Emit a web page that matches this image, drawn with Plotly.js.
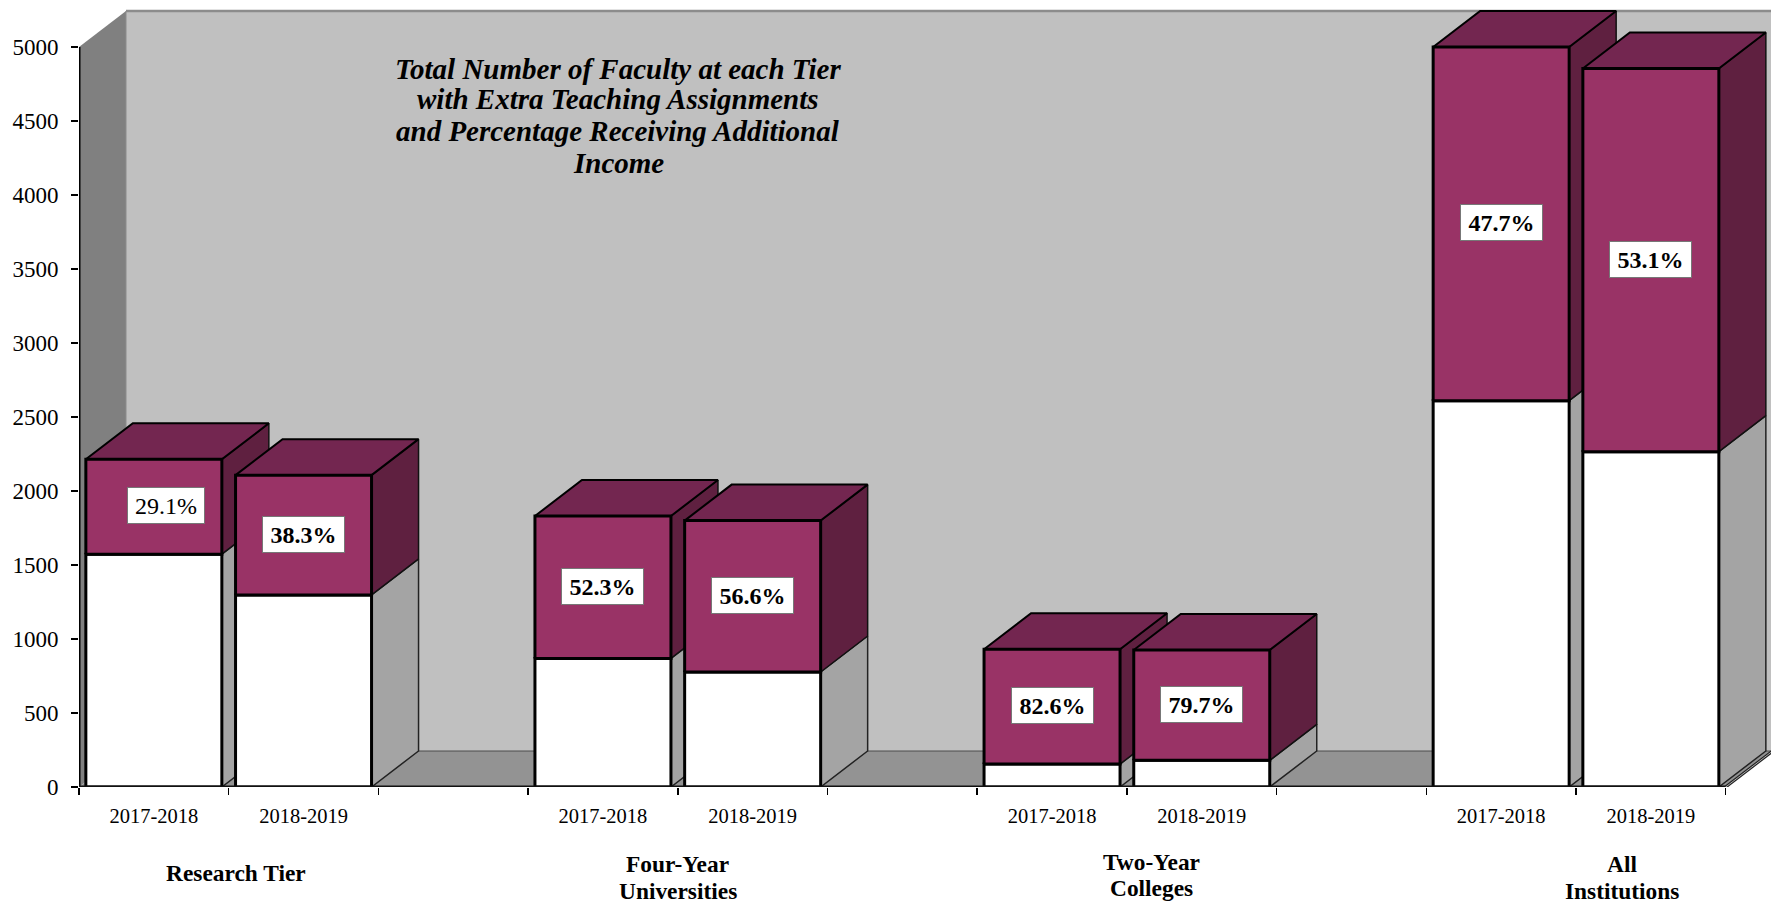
<!DOCTYPE html>
<html><head><meta charset="utf-8">
<script src="https://cdn.plot.ly/plotly-3.0.1.min.js"></script>
<style>html,body{margin:0;padding:0;background:#fff}#c{width:1771px;height:905px}</style>
</head><body><div id="c"></div>
<script>
// ---- data ----
const slots      = [0, 1, 3, 4, 6, 7, 9, 10];
const years      = ["2017-2018","2018-2019","2017-2018","2018-2019","2017-2018","2018-2019","2017-2018","2018-2019"];
const lowerValues= [1573, 1298, 869, 777, 155, 180, 2610, 2266];
const totalValues= [2214, 2107, 1831, 1800, 931, 926, 5000, 4855];
const percentLabels = ["29.1%","38.3%","52.3%","56.6%","82.6%","79.7%","47.7%","53.1%"];
const groupLabels = [["Research Tier"],["Four-Year","Universities"],["Two-Year","Colleges"],["All","Institutions"]];
const groupCenters = [1.047, 4, 7.167, 10.31];
const yTicks = [0,500,1000,1500,2000,2500,3000,3500,4000,4500,5000];
const xTicks = [0,1,2,3,4,5,6,7,8,9,10,11];
const titleLines = ["Total Number of Faculty at each Tier","with Extra Teaching Assignments","and Percentage Receiving Additional","Income"];

// ---- geometry / style ----
const W=1771,H=905,L=79,B=787,slotPx=149.7,pxPerVal=740/5000;
const xMax=(W-L)/slotPx, yMax=B/pxPerVal;
const dx=47/slotPx, dy=36/pxPerVal, barW=136/slotPx;
const FONT="'Liberation Serif','Times New Roman',serif";
const C={wall:'#c0c0c0',left:'#808080',floor:'#939393',front:'#993366',top:'#732650',side:'#5f2040',white:'#ffffff',wside:'#a4a4a4'};
const traces=[];
function poly(xs,ys,fill,lw,lc){
  traces.push({type:'scatter',mode:'lines',x:[...xs,xs[0]],y:[...ys,ys[0]],fill:fill?'toself':'none',
    fillcolor:fill||undefined,line:{color:lc||'#000',width:lw,join:'miter'},hoverinfo:'skip',showlegend:false,cliponaxis:false});
}
function seg(xs,ys,lc,lw){
  traces.push({type:'scatter',mode:'lines',x:xs,y:ys,line:{color:lc,width:lw},hoverinfo:'skip',showlegend:false,cliponaxis:false});
}
// walls
poly([dx,xMax,xMax,dx],[dy,dy,5000+dy,5000+dy],C.wall,0,C.wall);
poly([0,dx,dx,0],[0,dy,5000+dy,5000],C.left,0,C.left);
poly([0,11,11+dx,dx],[0,0,dy,dy],C.floor,0,C.floor);
seg([dx,xMax],[dy,dy],'#4d4d4d',1);
seg([dx,xMax],[5000+dy,5000+dy],'#8c8c8c',2.5);
seg([dx,dx],[dy,5000+dy],'#8c8c8c',1);
// bars
slots.forEach((s,i)=>{
  const l=s+0.5-barW/2,r=s+0.5+barW/2,lo=lowerValues[i],hi=totalValues[i];
  poly([r,r+dx,r+dx,r],[0,dy,lo+dy,lo],C.wside,1.5,'#222');
  poly([r,r+dx,r+dx,r],[lo,lo+dy,hi+dy,hi],C.side,1.5,'#111');
  poly([l,l+dx,r+dx,r],[hi,hi+dy,hi+dy,hi],C.top,2,'#000');
  poly([l,r,r,l],[0,0,lo,lo],C.white,3,'#000');
  poly([l,r,r,l],[lo,lo,hi,hi],C.front,3,'#000');
});
// axis lines and the floor's front-right edge
seg([0,0],[0,5000],'#000',3);
seg([0,11],[0,0],'#111',3);
seg([11,11+dx],[0,dy],'#222',3);
seg([11,11+dx],[0,dy],'#aaa',1);

const anns=[];
const py=p=>(B-p)/B; // paper y from canvas pixel
slots.forEach((s,i)=>{
  const bold=i!==0;
  anns.push({x:s+0.5+(i===0?0.08:0),y:(lowerValues[i]+totalValues[i])/2,xref:'x',yref:'y',showarrow:false,yshift:1,
    text:bold?'<b>'+percentLabels[i]+'</b>':percentLabels[i],width:bold?81:76,height:35,bgcolor:'#fff',
    bordercolor:'#777',borderwidth:1,borderpad:0,align:'center',valign:'middle',
    font:{family:FONT,size:24,color:'#000'}});
});
const groupY=[[873],[864,891],[862,888],[864,891]];
groupLabels.forEach((g,i)=>g.forEach((t,j)=>{
  anns.push({x:groupCenters[i],xref:'x',yref:'paper',y:py(groupY[i][j]),yanchor:'middle',xanchor:'center',showarrow:false,
    text:'<b>'+t+'</b>',font:{family:FONT,size:23.4,color:'#000'}});
}));
const titleY=[69,99.5,131,163];
titleLines.forEach((t,j)=>{
  anns.push({x:(618-L)/(W-L),xref:'paper',y:py(titleY[j]),yref:'paper',showarrow:false,xanchor:'center',yanchor:'middle',align:'center',
    text:'<b><i>'+t+'</i></b>',font:{family:FONT,size:29,color:'#000'}});
});

const layout={width:W,height:H,margin:{l:L,r:0,t:0,b:H-B,pad:0},paper_bgcolor:'#fff',plot_bgcolor:'#fff',showlegend:false,
  font:{family:FONT,color:'#000'},
  xaxis:{range:[0,xMax],showgrid:false,zeroline:false,showline:false,tickmode:'array',
    tickvals:slots.map(s=>s+0.5),ticktext:years,ticks:'',tickangle:0,ticklabelstandoff:14,tickfont:{family:FONT,size:20.5,color:'#000'},
    minor:{tickmode:'array',tickvals:xTicks,ticks:'outside',ticklen:7,tickwidth:1.5,tickcolor:'#000',showgrid:false},fixedrange:true},
  yaxis:{range:[0,yMax],showgrid:false,zeroline:false,showline:false,tickmode:'array',tickvals:yTicks,
    ticktext:yTicks.map(String),ticks:'outside',ticklen:7,tickwidth:1.5,tickcolor:'#000',ticklabelstandoff:8,
    tickfont:{family:FONT,size:23,color:'#000'},fixedrange:true},
  annotations:anns};
Plotly.newPlot('c',traces,layout,{displayModeBar:false,staticPlot:true});
</script></body></html>
